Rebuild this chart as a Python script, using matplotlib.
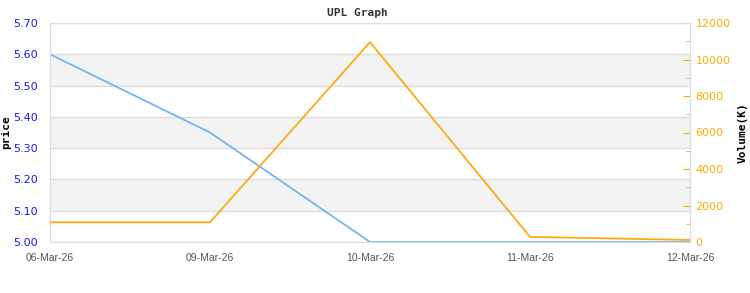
import numpy as np
import matplotlib.pyplot as plt
from matplotlib.ticker import MultipleLocator

dates = ['06-Mar-26', '09-Mar-26', '10-Mar-26', '11-Mar-26', '12-Mar-26']
price = [5.60, 5.35, 5.00, 5.00, 5.00]
volume = [1080, 1080, 10950, 280, 110]

price_ticks = [5.00, 5.10, 5.20, 5.30, 5.40, 5.50, 5.60, 5.70]
volume_ticks = [0, 2000, 4000, 6000, 8000, 10000, 12000]

fig = plt.figure(figsize=(7.5, 2.93), dpi=100)
ax = fig.add_axes([50/750, 51/293, 640/750, 219/293])
x = np.arange(len(dates))

# alternating bands
for lo in [5.10, 5.30, 5.50]:
    ax.axhspan(lo, lo + 0.10, color='#f3f3f3', zorder=0, lw=0)
for t in price_ticks:
    ax.axhline(t, color='#dddddd', lw=1, zorder=1)

ax.plot(x, price, color='#74b4f4', lw=1.3, zorder=3)
ax.set_xlim(0, len(dates) - 1)
ax.set_ylim(5.0, 5.7)
ax.set_yticks(price_ticks)
ax.set_yticklabels(['%.2f' % t for t in price_ticks], color='#1a1add', fontsize=8, family='DejaVu Sans')
ax.set_xticks(x)
ax.set_xticklabels(dates, color='#555555', fontsize=7.5, family='Liberation Sans')
ax.tick_params(axis='x', length=0, pad=8)
ax.tick_params(axis='y', length=0, pad=9)
for s in ax.spines.values():
    s.set_color('#dddddd')
ax.set_ylabel('price', family='DejaVu Sans Mono', fontweight='bold', fontsize=8, labelpad=0)
ax.yaxis.set_label_coords(-0.06, 0.5)

ax2 = ax.twinx()
ax2.plot(x, volume, color='#ffaa11', lw=1.3, zorder=4)
ax2.set_ylim(0, 12000)
ax2.set_yticks(volume_ticks)
ax2.set_yticklabels([str(t) for t in volume_ticks], color='#ffaa00', fontsize=8, family='DejaVu Sans')
ax2.yaxis.set_minor_locator(MultipleLocator(1000))
ax2.tick_params(axis='y', which='major', direction='in', length=5, color='#ffaa00', pad=4)
ax2.tick_params(axis='y', which='minor', direction='in', length=3, color='#ffaa00')
for s in ax2.spines.values():
    s.set_color('#dddddd')
ax2.set_ylabel('Volume(K)', family='DejaVu Sans Mono', fontweight='bold', fontsize=8)
ax2.yaxis.set_label_coords(1.075, 0.5)

fig.text(0.477, 0.955, 'UPL Graph', ha='center', va='center', family='DejaVu Sans Mono', fontweight='bold', fontsize=8, color='#333333')

fig.savefig('out.png', dpi=100)
